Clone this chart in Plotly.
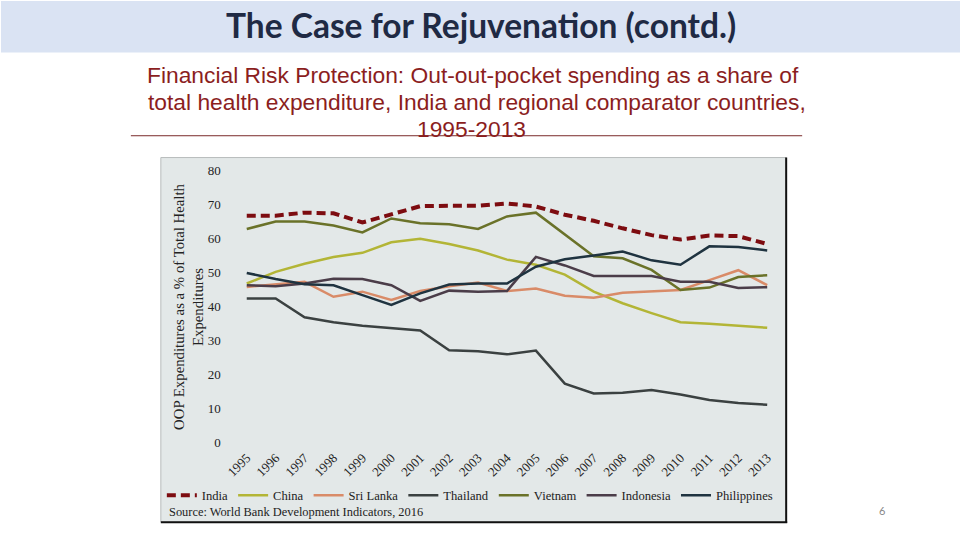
import plotly.graph_objects as go

years = list(range(1995, 2014))
india = [66.7, 66.7, 67.6, 67.4, 64.7, 67.2, 69.5, 69.6, 69.6, 70.3, 69.4, 67.0, 65.2, 63.0, 61.0, 59.7, 60.9, 60.7, 58.4]
china = [46.8, 50.2, 52.6, 54.6, 55.8, 58.9, 59.9, 58.4, 56.5, 53.8, 52.3, 49.4, 44.4, 41.0, 38.1, 35.4, 35.0, 34.4, 33.8]
sri_lanka = [45.8, 46.5, 47.3, 42.9, 44.4, 42.0, 44.6, 46.0, 47.1, 44.6, 45.3, 43.2, 42.6, 44.1, 44.4, 44.9, 47.8, 50.7, 46.3]
thailand = [42.4, 42.4, 36.9, 35.4, 34.4, 33.6, 33.0, 27.2, 26.9, 26.0, 27.1, 17.4, 14.5, 14.7, 15.5, 14.2, 12.6, 11.7, 11.2]
vietnam = [62.8, 65.0, 65.0, 63.8, 61.8, 65.9, 64.5, 64.2, 62.8, 66.5, 67.6, 61.3, 54.8, 54.2, 50.8, 44.9, 45.6, 48.7, 49.2]
indonesia = [46.3, 46.0, 46.8, 48.2, 48.1, 46.3, 41.7, 44.7, 44.4, 44.6, 54.6, 52.1, 49.0, 49.0, 49.0, 47.3, 47.3, 45.5, 45.7]
philippines = [49.9, 48.1, 46.6, 46.3, 43.4, 40.5, 43.9, 46.5, 46.8, 46.8, 51.7, 53.9, 55.0, 56.2, 53.6, 52.3, 57.7, 57.5, 56.5]

series_names = ["India", "China", "Sri Lanka", "Thailand", "Vietnam", "Indonesia", "Philippines"]
series_values = [india, china, sri_lanka, thailand, vietnam, indonesia, philippines]
series_colors = ["#7d0c10", "#b3b536", "#d98b68", "#3b4141", "#6a7229", "#4b3d49", "#1f3340"]
y_ticks = [0, 10, 20, 30, 40, 50, 60, 70, 80]
subtitle_lines = [
    "Financial Risk Protection: Out-out-pocket spending as a share of",
    "total health expenditure, India and regional comparator countries,",
    "1995-2013",
]

W, H = 960, 540
# plot area in pixels
PL, PR, PT, PB = 225, 785, 165, 450


def fx(px):
    return px / W


def fy(py):
    return 1 - py / H


fig = go.Figure()
for name, vals, col in zip(series_names, series_values, series_colors):
    fig.add_trace(go.Scatter(
        x=years, y=vals, mode="lines", name=name,
        line=dict(color=col, width=4 if name == "India" else 2.5,
                  dash="9px,5px" if name == "India" else "solid"),
    ))

serif = "Liberation Serif"
px_per_year = (767 - 246) / 18.0
x0 = 1995 - (246 - PL) / px_per_year
x1 = 2013 + (PR - 767) / px_per_year
px_per_unit = (446 - 171) / 80.0
y1 = (446 - PT) / px_per_unit
y0 = (446 - PB) / px_per_unit

fig.update_layout(
    width=W, height=H,
    margin=dict(l=0, r=0, t=0, b=0),
    paper_bgcolor="white",
    plot_bgcolor="#e3e8e8",
    showlegend=True,
    legend=dict(orientation="h", x=fx(161), y=fy(484), xanchor="left", yanchor="top",
                font=dict(family=serif, size=12.6, color="#222222"),
                bgcolor="rgba(0,0,0,0)", itemwidth=30, tracegroupgap=0),
    xaxis=dict(domain=[fx(PL), fx(PR)], range=[x0, x1], showgrid=False, zeroline=False,
               showline=False, tickmode="array", tickvals=years,
               ticktext=[str(y) for y in years], tickangle=-45,
               tickfont=dict(family=serif, size=13, color="#222222"), ticks=""),
    yaxis=dict(domain=[fy(PB), fy(PT)], range=[y0, y1], showgrid=False, zeroline=False,
               showline=False, tickmode="array", tickvals=y_ticks,
               tickfont=dict(family=serif, size=13, color="#222222"), ticks="",
               ticklabelstandoff=4),
    font=dict(family=serif),
)

shapes = []
# header band
shapes.append(dict(type="rect", xref="paper", yref="paper", x0=0, x1=1, y0=fy(52), y1=1,
                   fillcolor="#dae3f3", line=dict(width=0), layer="below"))
# chart box
shapes.append(dict(type="rect", xref="paper", yref="paper", x0=fx(160), x1=fx(786),
                   y0=fy(526), y1=fy(158), fillcolor="#e3e8e8",
                   line=dict(width=1, color="#b8bcbc"), layer="below"))
shapes.append(dict(type="line", xref="paper", yref="paper", x0=fx(786), x1=fx(786),
                   y0=fy(527), y1=fy(158), line=dict(width=2, color="#111111")))
shapes.append(dict(type="line", xref="paper", yref="paper", x0=fx(160), x1=fx(787),
                   y0=fy(526), y1=fy(526), line=dict(width=2, color="#111111")))
# rule under subtitle
shapes.append(dict(type="line", xref="paper", yref="paper", x0=fx(130), x1=fx(802),
                   y0=fy(136), y1=fy(136), line=dict(width=1, color="#7a2a2a")))
fig.update_layout(shapes=shapes)

annotations = [
    dict(text="<b>The Case for Rejuvenation (contd.)</b>", xref="paper", yref="paper",
         x=fx(480), y=fy(24), xanchor="center", yanchor="middle", showarrow=False,
         font=dict(family="Lato", size=33.5, color="#1f2a44")),
    dict(text="OOP Expenditures as a % of Total Health<br>Expenditures", xref="paper", yref="paper",
         x=fx(187), y=fy(308), xanchor="center", yanchor="middle", showarrow=False,
         textangle=-90, align="center",
         font=dict(family=serif, size=14.8, color="#222222")),
    dict(text="Source: World Bank Development Indicators, 2016", xref="paper", yref="paper",
         x=fx(166), y=fy(516), xanchor="left", yanchor="middle", showarrow=False,
         font=dict(family=serif, size=12.4, color="#222222")),
    dict(text="6", xref="paper", yref="paper", x=fx(882), y=fy(514), xanchor="center",
         yanchor="middle", showarrow=False,
         font=dict(family="Lato", size=11, color="#888888")),
]
for line_text, ly, lx in zip(subtitle_lines, [75, 102, 129], [472, 476, 471]):
    annotations.append(dict(text=line_text, xref="paper", yref="paper", x=fx(lx), y=fy(ly),
                            xanchor="center", yanchor="middle", showarrow=False,
                            font=dict(family="Liberation Sans", size=22.8, color="#8b1e1e")))
fig.update_layout(annotations=annotations)

fig.write_html("out.html", config={"displayModeBar": False},
               post_script="document.body.style.margin='0';")
